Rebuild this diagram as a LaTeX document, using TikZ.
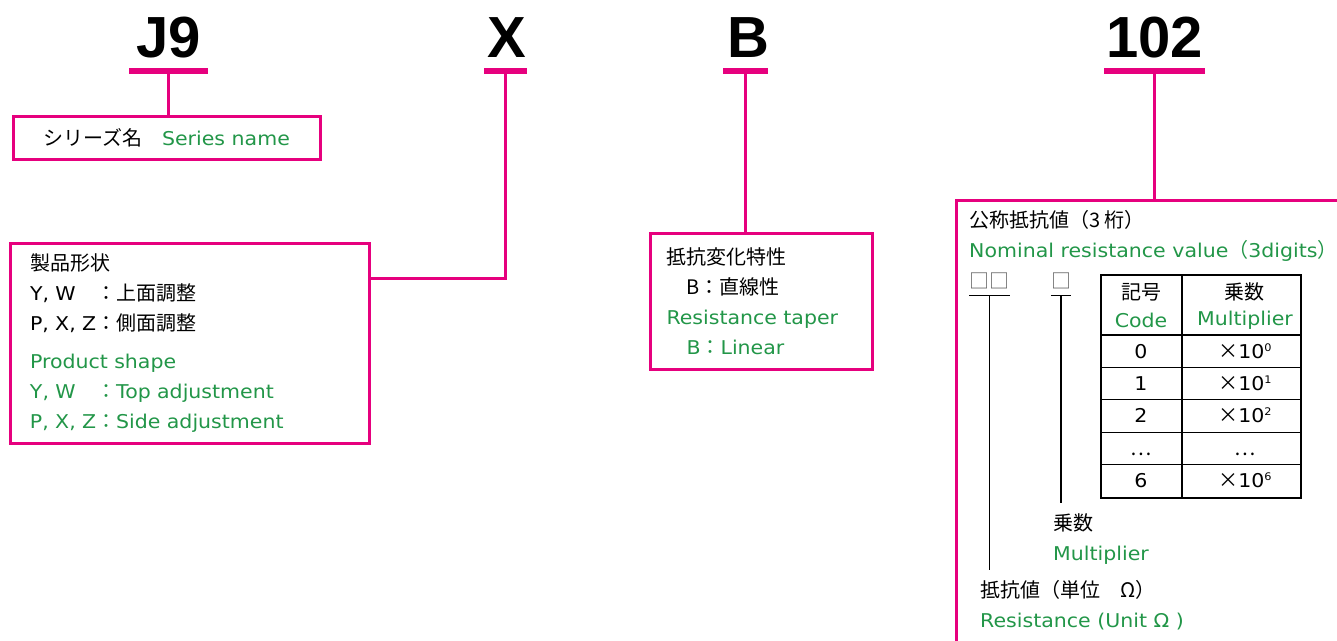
\documentclass[tikz,border=0pt]{standalone}
\usepackage{fontspec}
\setmainfont{DejaVu Sans}[Scale=0.95,FakeStretch=1.08]
\newfontfamily\jpfont{Noto Sans CJK JP}
\newfontfamily\headfont{Liberation Sans}
\usetikzlibrary{positioning}
\definecolor{cMag}{RGB}{230,0,126}
\definecolor{cGrn}{RGB}{34,150,72}
\newcommand\jp[1]{{\jpfont #1}}
\newcommand\en[1]{\textcolor{cGrn}{#1}}
\newcommand\xten[1]{\jp{×}10\raisebox{7pt}{\fontsize{11}{11}\selectfont #1}}
\newcommand\keyYW{\leavevmode\rlap{Y, W}\phantom{P, X, Z}}
\tikzset{
  frame/.style={draw=cMag, line width=3pt, inner sep=0pt},
  bar/.style={fill=cMag, minimum height=6pt, inner sep=0pt},
  head/.style={font=\headfont\bfseries\fontsize{58}{58}\selectfont, inner sep=0pt},
  link/.style={draw=cMag, line width=3pt},
  txt/.style={font=\fontsize{20}{30}\selectfont, inner sep=0pt},
  digit/.style={txt, text=black!65, inner ysep=7pt},
  leader/.style={draw=black, line width=1.4pt},
  grid/.style={draw=black, line width=1.2pt},
}

\begin{document}
\begin{tikzpicture}[x=1pt, y=-1pt]
\useasboundingbox (0,0) rectangle (1337,640);

% ===== part code =====
\node[bar, minimum width=79pt] (jbar) at (168.5,71) {};
\node[head, anchor=base] (jhead) at (168.5,57) {J9};
\node[bar, minimum width=43pt] (xbar) at (505.5,71) {};
\node[head, anchor=base] (xhead) at (507,57) {X};
\node[bar, minimum width=45pt] (bbar) at (745.5,71) {};
\node[head, anchor=base] (bhead) at (748,57) {B};
\node[bar, minimum width=101pt] (nbar) at (1154.5,71) {};
\node[head, anchor=base] (nhead) at (1154.5,57) {102};

% ===== boxes =====
\node[frame, txt, minimum width=307pt, minimum height=43pt, anchor=north west] (series) at (11.5,114.5)
  {\jp{シリーズ名　}\en{Series name}};

\node[frame, txt, align=left, text width=320pt, minimum width=359pt, minimum height=200pt, anchor=north west] (shape) at (9,241.5)
  {\jp{製品形状}\\
   \keyYW\jp{：上面調整}\\
   P, X, Z\jp{：側面調整}\\[8pt]
   \en{Product shape}\\
   \en{\keyYW\jp{：}Top adjustment}\\
   \en{P, X, Z\jp{：}Side adjustment}};

\node[frame, txt, align=left, text width=190pt, minimum width=222pt, minimum height=136pt, anchor=north west] (taper) at (649,231.5)
  {\jp{抵抗変化特性}\\
   \jp{　B：直線性}\\
   \en{Resistance taper}\\
   \en{\jp{　}B\jp{：}Linear}};

\node[frame, minimum width=420pt, minimum height=480pt, anchor=north west] (nominal) at (954.5,198.5) {};

% ===== nominal resistance =====
\node[txt, anchor=base west] (nomjp) at (969,227) {\jp{公称抵抗値（3 桁）}};
\node[txt, anchor=base west] (nomen) at (969,257) {\en{Nominal resistance value\jp{（}3digits\jp{）}}};

\node[digit, anchor=base] (dd) at (989.5,288) {\jp{□□}};
\node[digit, anchor=base] (dm) at (1061,288) {\jp{□}};

\node[txt, anchor=base west, inner ysep=10pt] (muljp) at (1053,530) {\jp{乗数}};
\node[txt, anchor=base west] (mulen) at (1053,560) {\en{Multiplier}};
\node[txt, anchor=base west, inner ysep=10pt] (resjp) at (980,597) {\jp{抵抗値（単位　Ω）}};
\node[txt, anchor=base west] (resen) at (980,627) {\en{Resistance (Unit Ω )}};

% table
\node[grid, line width=1.8pt, inner sep=0pt, minimum width=200pt, minimum height=223pt, anchor=north west] (tab) at (1100,274) {};
\draw[grid] ([xshift=82pt]tab.north west) -- ([xshift=82pt]tab.south west);
\foreach \r in {0,...,4}
  \draw[grid] ([yshift={-(61+32.4*\r)*1pt}]tab.north west) -- ([yshift={-(61+32.4*\r)*1pt}]tab.north east);
\node[txt] (hcode) at (1141,292) {\jp{記号}};
\node[txt] (hcodeen) at (1141,320) {\en{Code}};
\node[txt] (hmul) at (1244,292) {\jp{乗数}};
\node[txt] (hmulen) at (1245,320) {\en{Multiplier}};
\foreach \c/\m [count=\r from 0] in {0/\xten{0},1/\xten{1},2/\xten{2},\jp{…}/\jp{…},6/\xten{6}} {
  \node[txt, anchor=base] (code\r) at (1141,{358+32.4*\r}) {\c};
  \node[txt, anchor=base] (mult\r) at (1245,{358+32.4*\r}) {\m};
}

% ===== connectors =====
\coordinate (xelbow) at (505,278);
\draw[link] (jbar.south) -- (jbar.south |- series.north);
\draw[link] (xbar.south) |- (shape.east |- xelbow);
\draw[link] (bbar.south) -- (bbar.south |- taper.north);
\draw[link] (nbar.south) -- (nbar.south |- nominal.north);

\draw[leader] (dd.south west) -- (dd.south east);
\draw[leader] (dd.south) -- (dd.south |- resjp.north);
\draw[leader] (dm.south west) -- (dm.south east);
\draw[leader] (dm.south) -- (dm.south |- muljp.north);

\end{tikzpicture}
\end{document}
